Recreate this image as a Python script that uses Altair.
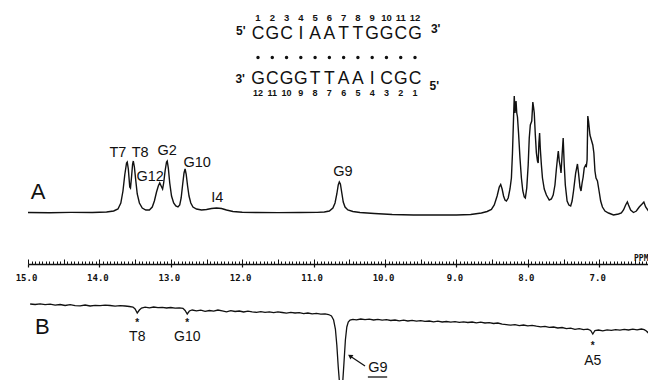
import altair as alt
import pandas as pd

# ---------------- data ----------------
# Spectrum A : (ppm, intensity)
a_ppm = [15.00, 14.70, 14.40, 14.10, 13.90, 13.80, 13.74, 13.70, 13.67, 13.645, 13.62, 13.61, 13.595, 13.575,
         13.565, 13.55, 13.535, 13.525, 13.51, 13.49, 13.47, 13.44, 13.40, 13.35, 13.30, 13.26, 13.23, 13.20,
         13.175, 13.155, 13.135, 13.115, 13.10, 13.08, 13.06, 13.05, 13.035, 13.015, 12.99, 12.96, 12.93, 12.90,
         12.875, 12.855, 12.835, 12.815, 12.80, 12.785, 12.765, 12.745, 12.72, 12.69, 12.64, 12.57, 12.50, 12.43,
         12.36, 12.29, 12.22, 12.13, 12.00, 11.80, 11.50, 11.20, 10.95, 10.85, 10.78, 10.73, 10.70, 10.675,
         10.655, 10.64, 10.625, 10.605, 10.585, 10.56, 10.52, 10.45, 10.35, 10.15, 9.90, 9.60, 9.30, 9.00, 8.80,
         8.65, 8.57, 8.51, 8.47, 8.43, 8.40, 8.38, 8.36, 8.34, 8.32, 8.30, 8.275, 8.25, 8.23, 8.215, 8.20, 8.19,
         8.18, 8.17, 8.165, 8.155, 8.145, 8.13, 8.11, 8.09, 8.07, 8.05, 8.035, 8.015, 7.995, 7.98, 7.965, 7.955,
         7.945, 7.93, 7.92, 7.91, 7.895, 7.88, 7.865, 7.855, 7.845, 7.835, 7.825, 7.81, 7.795, 7.77, 7.74, 7.70,
         7.67, 7.645, 7.62, 7.60, 7.58, 7.573, 7.56, 7.545, 7.535, 7.52, 7.505, 7.49, 7.475, 7.45, 7.425, 7.40,
         7.38, 7.36, 7.33, 7.305, 7.29, 7.27, 7.255, 7.24, 7.225, 7.21, 7.19, 7.18, 7.17, 7.16, 7.15, 7.13, 7.11,
         7.09, 7.075, 7.06, 7.045, 7.025, 7.00, 6.98, 6.955, 6.92, 6.87, 6.80, 6.73, 6.69, 6.66, 6.63, 6.606,
         6.59, 6.56, 6.52, 6.48, 6.44, 6.40, 6.375, 6.35, 6.31, 6.27, 6.20]
a_int = [0.5, 0.3, 0.6, 0.5, 1.0, 2.0, 4, 10, 22, 38, 50, 51, 44, 26,
         25, 36, 49, 52, 46, 32, 19, 10, 5, 3, 3, 6, 12, 21,
         27, 30, 27, 24, 30, 42, 51, 52, 45, 30, 17, 10, 7, 6,
         8, 15, 28, 40, 44, 39, 27, 17, 10, 6, 4, 3, 3.5, 4.5,
         5, 4.5, 3, 1.5, 0.8, 0.5, 0.4, 0.5, 0.6, 1, 2, 5, 10, 19,
         28, 31, 29, 20, 11, 6, 3, 1.5, 0.5, -0.5, -1.5, -2, -2, -2, -1.5,
         0, 1.5, 3.5, 8, 17, 26, 28.5, 24, 17, 13, 12, 15, 24, 35, 60, 95, 117,
         100, 107, 112, 100, 96, 80, 55, 35, 22, 16, 15, 25, 48, 75, 88, 90,
         92, 111, 106, 100, 78, 60, 52, 50, 70, 80, 64, 48, 35, 24, 18, 13,
         14, 18, 28, 44, 58, 62, 52, 46, 40, 58, 75, 48, 28, 12, 8, 7,
         12, 22, 40, 49, 40, 26, 22, 30, 36, 45, 48, 47, 53, 97, 92, 78, 73,
         68, 60, 42, 35, 32, 21, 12, 6, 2, 0, -2, -1, 0, 3, 8, 11,
         8, 3, 0.5, 2, 6, 9, 11, 6, 2, 8, 20]

# Spectrum B : (ppm, intensity)
b_ppm = [14.97, 14.90, 14.83, 14.76, 14.69, 14.62, 14.55, 14.48, 14.41, 14.34, 14.27, 14.20, 14.13, 14.06,
         13.99, 13.92, 13.85, 13.78, 13.71, 13.64, 13.58, 13.53, 13.50, 13.47, 13.44, 13.41, 13.36, 13.30,
         13.24, 13.18, 13.12, 13.06, 13.00, 12.94, 12.88, 12.83, 12.80, 12.77, 12.74, 12.70, 12.64, 12.58,
         12.52, 12.46, 12.40, 12.34, 12.28, 12.22, 12.16, 12.10, 12.04, 11.98, 11.92, 11.86, 11.80, 11.74,
         11.68, 11.62, 11.56, 11.50, 11.44, 11.38, 11.32, 11.26, 11.20, 11.14, 11.08, 11.02, 10.96, 10.90,
         10.84, 10.79, 10.75, 10.72, 10.695, 10.675, 10.655, 10.635, 10.615, 10.595, 10.575, 10.555, 10.535,
         10.515, 10.49, 10.45, 10.40, 10.34, 10.28, 10.22, 10.16, 10.10, 10.04, 9.98, 9.92, 9.86, 9.80, 9.74,
         9.68, 9.62, 9.56, 9.50, 9.44, 9.38, 9.32, 9.26, 9.20, 9.14, 9.08, 9.02, 8.96, 8.90, 8.84, 8.78, 8.72,
         8.66, 8.60, 8.54, 8.48, 8.42, 8.36, 8.30, 8.24, 8.18, 8.12, 8.06, 8.00, 7.94, 7.88, 7.82, 7.76, 7.70,
         7.64, 7.58, 7.52, 7.46, 7.40, 7.34, 7.28, 7.22, 7.16, 7.12, 7.09, 7.06, 7.01, 6.95, 6.89, 6.83, 6.77,
         6.71, 6.65, 6.59, 6.53, 6.47, 6.41, 6.37, 6.34, 6.32, 6.30, 6.25]
b_int = [1.0, 0.5, 1.2, 0.3, 0.8, -0.2, 0.5, -0.5, 0.4, -0.6, -0.8, 0.0, -1.0, -0.4,
         -0.7, -0.2, -0.5, -1.2, -0.6, -1.0, -1.5, -2.0, -4, -8, -5, -3, -2.2, -2.8,
         -2.0, -2.6, -2.3, -3.0, -2.5, -3.2, -2.8, -3.3, -5.5, -9, -6, -5, -5.8, -5.2,
         -6.3, -5.5, -6.2, -5.0, -5.8, -6.8, -5.6, -6.5, -6.0, -7.0, -6.2, -6.8, -7.3, -6.6,
         -7.4, -6.8, -7.6, -6.9, -7.5, -8.2, -7.4, -8.0, -7.6, -8.6, -8.0, -8.8, -8.3, -9.2,
         -8.8, -9.5, -11, -15, -24, -40, -62, -80, -90, -80, -58, -35, -22,
         -17, -15, -14.3, -14.8, -14.0, -14.6, -14.2, -15.0, -14.4, -15.2, -14.7, -15.5, -15.0, -15.8, -15.2,
         -16.0, -15.4, -16.2, -15.6, -16.4, -16.0, -16.8, -16.2, -17.0, -16.5, -17.2, -16.6, -17.4, -16.8, -17.5, -17.0, -17.8,
         -17.2, -18.0, -17.6, -18.5, -18.0, -19.2, -19.6, -20.2, -19.6, -20.6, -20.0, -20.8, -20.3, -21.2, -21.8, -21.3, -22.4,
         -22.0, -23.0, -22.5, -23.6, -23.2, -24.3, -23.6, -24.6, -24.2, -25.5, -29, -25.5, -25.0, -25.8, -24.8, -25.4, -24.6,
         -25.2, -24.4, -25.0, -24.2, -24.8, -24.0, -24.6, -26.0, -27.5, -26, -22]

# axis
ppm_major = [15.0, 14.0, 13.0, 12.0, 11.0, 10.0, 9.0, 8.0, 7.0]
ppm_minor = [round(15.0 - 0.05 * k, 2) for k in range(0, 174)]

# peak labels of A
a_label_text = ["T7", "T8", "G12", "G2", "G10", "I4", "G9"]
a_label_ppm = [13.74, 13.43, 13.29, 13.05, 12.63, 12.35, 10.59]
a_label_level = [60, 60, 36, 62, 50, 15, 41]

# marked peaks of B
b_mark_text = ["T8", "G10", "A5"]
b_mark_ppm = [13.47, 12.77, 7.09]
b_star_level = [-16, -16, -39]
b_label_level = [-32, -32, -56]
g9_text = ["G9"]
g9_ppm = [10.10]
g9_level = [-63]
g9_under_ppm = [10.24, 9.97]
g9_under_level = [-72]
arrow_from = [10.28, -61]
arrow_to = [10.49, -51]

# duplex
top_strand = ["C", "G", "C", "I", "A", "A", "T", "T", "G", "G", "C", "G"]
bottom_strand = ["G", "C", "G", "G", "T", "T", "A", "A", "I", "C", "G", "C"]
top_numbers = ["1", "2", "3", "4", "5", "6", "7", "8", "9", "10", "11", "12"]
bottom_numbers = ["12", "11", "10", "9", "8", "7", "6", "5", "4", "3", "2", "1"]
positions = [1, 2, 3, 4, 5, 6, 7, 8, 9, 10, 11, 12]

# ---------------- chart ----------------
W, H = 640, 372
INK = "#111111"
X = alt.Scale(domain=[15.0, 6.317], range=[20, 640])
YA = alt.Scale(domain=[-167, 205])
YB = alt.Scale(domain=[-75, 297])
POS = alt.Scale(domain=[1, 12], range=[250, 407])
NARROW = "Liberation Sans Narrow, Liberation Sans, Arial, sans-serif"
SANS = "Liberation Sans, Arial, Helvetica, sans-serif"
MONO = "DejaVu Sans Mono, monospace"

dfA = pd.DataFrame({"ppm": a_ppm, "i": a_int})
dfB = pd.DataFrame({"ppm": b_ppm, "i": b_int})

comb_axis = alt.Axis(
    orient="top", offset=-256, values=ppm_minor, labels=False, grid=False,
    domain=True, domainColor=INK, domainWidth=1.3,
    tickColor=INK, tickWidth=1,
    tickSize={"condition": {"test": "abs(datum.value * 2 - round(datum.value * 2)) < 0.01", "value": 5}, "value": 3},
    title="PPM", titleX=640, titleY=-4, titleAlign="right", titleBaseline="alphabetic",
    titleFont=MONO, titleFontSize=8, titleFontWeight="bold", titleColor=INK,
)
label_axis = alt.Axis(
    orient="bottom", offset=-116, values=ppm_major, format=".1f", grid=False,
    domain=False, tickColor=INK, tickWidth=1.2, tickSize=3,
    labelFont=MONO, labelFontSize=9, labelFontWeight="bold", labelColor=INK,
    labelPadding=6, labelOffset=-2, labelFlush=False, labelOverlap=False, title=None,
)

lineA = alt.Chart(dfA).mark_line(color=INK, strokeWidth=1.4, clip=True).encode(
    x=alt.X("ppm:Q", scale=X, axis=comb_axis),
    y=alt.Y("i:Q", scale=YA, axis=None),
)
lineB = alt.Chart(dfB).mark_line(color=INK, strokeWidth=1.3, clip=True).encode(
    x=alt.X("ppm:Q", scale=X, axis=label_axis),
    y=alt.Y("i:Q", scale=YB, axis=None),
)

labA = alt.Chart(pd.DataFrame({"ppm": a_label_ppm, "lev": a_label_level, "t": a_label_text})).mark_text(
    font=NARROW, fontSize=14.5, color=INK, baseline="middle").encode(
    x=alt.X("ppm:Q", scale=X, axis=None), y=alt.Y("lev:Q", scale=YA, axis=None), text="t:N")

dfBM = pd.DataFrame({"ppm": b_mark_ppm, "star": b_star_level, "lev": b_label_level, "t": b_mark_text})
starsB = alt.Chart(dfBM).mark_text(font=SANS, fontSize=10, fontWeight="bold", color=INK, baseline="middle", dy=2).encode(
    x=alt.X("ppm:Q", scale=X, axis=None), y=alt.Y("star:Q", scale=YB, axis=None), text=alt.value("*"))
labB = alt.Chart(dfBM).mark_text(font=NARROW, fontSize=14, color=INK, baseline="middle").encode(
    x=alt.X("ppm:Q", scale=X, axis=None), y=alt.Y("lev:Q", scale=YB, axis=None), text="t:N")

g9 = alt.Chart(pd.DataFrame({"ppm": g9_ppm, "lev": g9_level, "t": g9_text})).mark_text(
    font=NARROW, fontSize=14.5, color=INK, baseline="middle").encode(
    x=alt.X("ppm:Q", scale=X, axis=None), y=alt.Y("lev:Q", scale=YB, axis=None), text="t:N")
g9u = alt.Chart(pd.DataFrame({"x1": [g9_under_ppm[0]], "x2": [g9_under_ppm[1]], "lev": g9_under_level})).mark_rule(
    color=INK, strokeWidth=1.3).encode(
    x=alt.X("x1:Q", scale=X, axis=None), x2="x2:Q", y=alt.Y("lev:Q", scale=YB, axis=None))
arrow = alt.Chart(pd.DataFrame({"x1": [arrow_from[0]], "x2": [arrow_to[0]], "y1": [arrow_from[1]], "y2": [arrow_to[1]]})).mark_rule(
    color=INK, strokeWidth=1.2).encode(
    x=alt.X("x1:Q", scale=X, axis=None), x2="x2:Q", y=alt.Y("y1:Q", scale=YB, axis=None), y2="y2:Q")
head = alt.Chart(pd.DataFrame({"x": [arrow_to[0]], "y": [arrow_to[1]]})).mark_point(
    shape="triangle-up", filled=True, color=INK, size=28, angle=304, opacity=1).encode(
    x=alt.X("x:Q", scale=X, axis=None), y=alt.Y("y:Q", scale=YB, axis=None))

panelA = alt.Chart(pd.DataFrame({"ppm": [14.86], "lev": [21], "t": ["A"]})).mark_text(
    font=SANS, fontSize=22, color=INK, baseline="middle").encode(
    x=alt.X("ppm:Q", scale=X, axis=None), y=alt.Y("lev:Q", scale=YA, axis=None), text="t:N")
panelB = alt.Chart(pd.DataFrame({"ppm": [14.80], "lev": [-22], "t": ["B"]})).mark_text(
    font=SANS, fontSize=22, color=INK, baseline="middle").encode(
    x=alt.X("ppm:Q", scale=X, axis=None), y=alt.Y("lev:Q", scale=YB, axis=None), text="t:N")

dfS = pd.DataFrame({"pos": positions, "top": top_strand, "bot": bottom_strand,
                    "ntop": top_numbers, "nbot": bottom_numbers})

def seq_row(field, yv, size, weight="normal", font=SANS):
    return alt.Chart(dfS).mark_text(font=font, fontSize=size, fontWeight=weight, color=INK, baseline="middle").encode(
        x=alt.X("pos:Q", scale=POS, axis=None), y=alt.value(yv), text=f"{field}:N")

row_ntop = seq_row("ntop", 10, 9.5, "bold")
row_top = seq_row("top", 25.5, 17.5)
row_bot = seq_row("bot", 71, 17.5)
row_nbot = seq_row("nbot", 85, 9, "bold")
dots = alt.Chart(dfS).mark_circle(color=INK, size=12, opacity=1).encode(
    x=alt.X("pos:Q", scale=POS, axis=None), y=alt.value(49.5))

ends = alt.Chart(pd.DataFrame({"pos": [-0.2, 13.45, -0.25, 13.35], "row": [23, 21, 71, 78],
                               "t": ["5'", "3'", "3'", "5'"]})).mark_text(
    font=SANS, fontSize=12, fontWeight="bold", color=INK, baseline="middle").encode(
    x=alt.X("pos:Q", scale=POS, axis=None), y=alt.Y("row:Q", scale=alt.Scale(domain=[0, H], range=[0, H]), axis=None),
    text="t:N")

chart = alt.layer(
    lineA, lineB, labA, starsB, labB, g9, g9u, arrow, head, panelA, panelB,
    row_ntop, row_top, row_bot, row_nbot, dots, ends,
).resolve_scale(x="independent", y="independent").properties(
    width=W, height=H, padding=0, background="white"
).configure_view(stroke=None)

chart.save("out.html", embed_options={"renderer": "svg", "actions": False})
